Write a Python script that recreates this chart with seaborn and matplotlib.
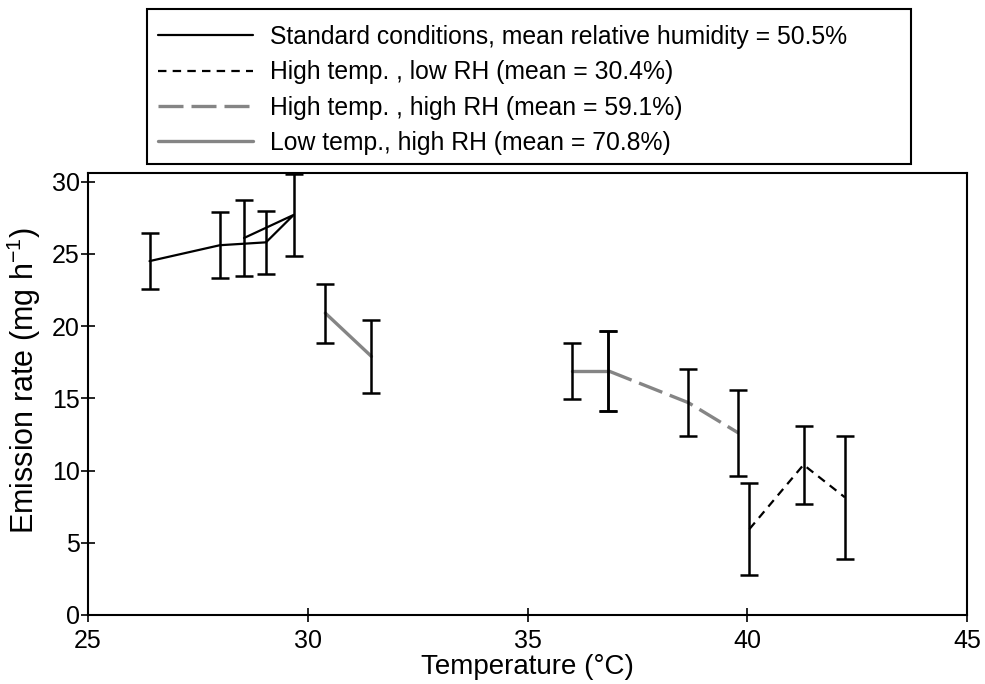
import matplotlib
matplotlib.use("Agg")
import matplotlib.pyplot as plt
from matplotlib.patches import Rectangle
import seaborn as sns
import pandas as pd
import numpy as np

# ---- data ----
std_temp = [26.4, 28.0, 29.05, 29.68, 28.55]
std_rate = [24.5, 25.6, 25.8, 27.7, 26.1]
std_err = [1.95, 2.3, 2.2, 2.85, 2.65]

hthr_temp = [36.84, 38.66, 39.8]
hthr_rate = [16.9, 14.7, 12.6]
hthr_err = [2.75, 2.3, 2.95]

htlr_temp = [40.05, 41.28, 42.22]
htlr_rate = [5.95, 10.4, 8.15]
htlr_err = [3.2, 2.7, 4.25]

lthr_temp = [30.4, 31.45, 36.02, 36.84]
lthr_rate = [20.9, 17.9, 16.9, 16.9]
lthr_err = [2.05, 2.5, 1.95, 2.75]
lthr_seg = [0, 0, 1, 1]

labels = ["Standard conditions, mean relative humidity = 50.5%",
          "High temp. , low RH (mean = 30.4%)",
          "High temp. , high RH (mean = 59.1%)",
          "Low temp., high RH (mean = 70.8%)"]

xticks = [25, 30, 35, 40, 45]
yticks = [0, 5, 10, 15, 20, 25, 30]

sns.set_theme(style="ticks")
plt.rcParams['font.family'] = ['Liberation Sans', 'DejaVu Sans']
plt.rcParams['mathtext.fontset'] = 'custom'
plt.rcParams['mathtext.rm'] = 'Liberation Sans'

W, H = 985, 684
fig = plt.figure(figsize=(W / 100, H / 100), dpi=100)
ax = fig.add_axes([88/W, 1-615/H, (967-88)/W, (615-173)/H])

gray = "#858585"

df_std = pd.DataFrame({"t": std_temp, "r": std_rate})
df_htlr = pd.DataFrame({"t": htlr_temp, "r": htlr_rate})
df_hthr = pd.DataFrame({"t": hthr_temp, "r": hthr_rate})
df_lthr = pd.DataFrame({"t": lthr_temp, "r": lthr_rate, "s": lthr_seg})

sns.lineplot(data=df_std, x="t", y="r", sort=False, estimator=None, color="black",
             linewidth=1.6, ax=ax, label=labels[0])
sns.lineplot(data=df_htlr, x="t", y="r", sort=False, estimator=None, color="black",
             linewidth=1.6, ax=ax, label=labels[1], linestyle=(0, (3.8, 2.8)))
sns.lineplot(data=df_hthr, x="t", y="r", sort=False, estimator=None, color=gray,
             linewidth=2.4, ax=ax, label=labels[2], linestyle=(0, (7.5, 2.4)))
for k, (seg, sub) in enumerate(df_lthr.groupby("s")):
    sns.lineplot(data=sub, x="t", y="r", sort=False, estimator=None, color=gray,
                 linewidth=2.4, ax=ax, label=labels[3] if k == 0 else "_nolegend_")

for t, r, e in [(std_temp, std_rate, std_err), (hthr_temp, hthr_rate, hthr_err),
                (htlr_temp, htlr_rate, htlr_err), (lthr_temp, lthr_rate, lthr_err)]:
    ax.errorbar(t, r, yerr=e, fmt="none", ecolor="black", elinewidth=1.8,
                capsize=6.5, capthick=1.8, zorder=5)

ax.set_xlim(25, 45)
ax.set_ylim(0, 30.6)
ax.set_xticks(xticks)
ax.set_yticks(yticks)
ax.tick_params(axis="both", direction="inout", length=10, width=1.2, labelsize=18,
               top=False, right=False, colors="black")
ax.tick_params(axis="x", pad=5)
ax.tick_params(axis="y", pad=1)
for s in ax.spines.values():
    s.set_visible(True)
    s.set_linewidth(1.5)
    s.set_color("black")
ax.set_xlabel("Temperature (°C)", fontsize=20, labelpad=1, color="black")
ax.set_ylabel(r"Emission rate (mg h$^{\mathregular{-1}}$)", fontsize=22, color="black")
ax.yaxis.set_label_coords(-0.051, 0.5305)

handles, labs = ax.get_legend_handles_labels()
if ax.legend_:
    ax.legend_.remove()
leg = fig.legend(handles, labs, loc="upper left",
                 bbox_to_anchor=(158/W, 1-25/H),
                 frameon=False, fontsize=17.8,
                 handlelength=3.85, handletextpad=0.68, labelspacing=0.46,
                 borderpad=0, borderaxespad=0)
for txt in leg.get_texts():
    txt.set_color("black")
fig.patches.append(Rectangle((147/W, 1-164/H), (911-147)/W, (164-9)/H,
                             transform=fig.transFigure, fill=False,
                             edgecolor="black", linewidth=1.5))

fig.savefig("out.png", dpi=100)
